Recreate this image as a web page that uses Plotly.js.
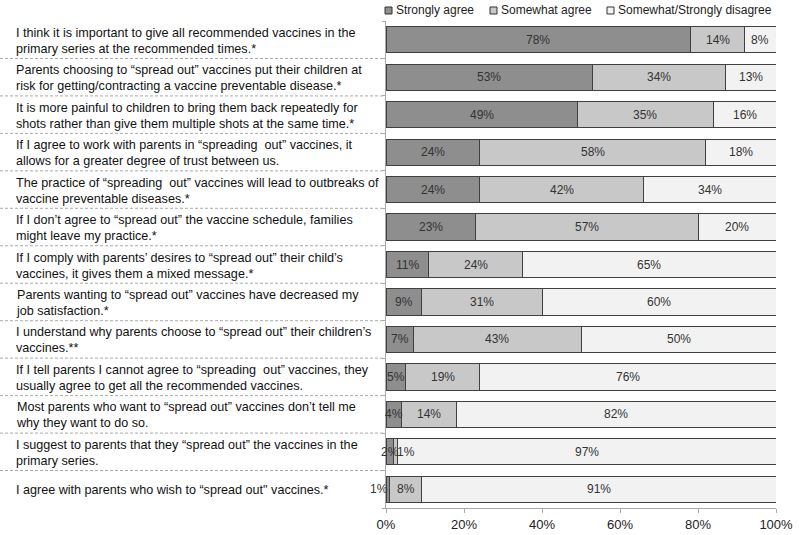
<!DOCTYPE html>
<html>
<head>
<meta charset="utf-8">
<script src="https://cdn.plot.ly/plotly-3.0.1.min.js"></script>
<style>
  html, body { margin: 0; padding: 0; background: #fff; }
  #chart { width: 799px; height: 535px; }
</style>
</head>
<body>
<div id="chart"></div>
<script>
// ---- Data ----
const statements = [
  "I think it is important to give all recommended vaccines in the<br>primary series at the recommended times.*",
  "Parents choosing to “spread out” vaccines put their children at<br>risk for getting/contracting a vaccine preventable disease.*",
  "It is more painful to children to bring them back repeatedly for<br>shots rather than give them multiple shots at the same time.*",
  "If I agree to work with parents in “spreading  out” vaccines, it<br>allows for a greater degree of trust between us.",
  "The practice of “spreading  out” vaccines will lead to outbreaks of<br>vaccine preventable diseases.*",
  "If I don’t agree to “spread out” the vaccine schedule, families<br>might leave my practice.*",
  "If I comply with parents’ desires to “spread out” their child’s<br>vaccines, it gives them a mixed message.*",
  "Parents wanting to “spread out” vaccines have decreased my<br>job satisfaction.*",
  "I understand why parents choose to “spread out” their children’s<br>vaccines.**",
  "If I tell parents I cannot agree to “spreading  out” vaccines, they<br>usually agree to get all the recommended vaccines.",
  "Most parents who want to “spread out” vaccines don’t tell me<br>why they want to do so.",
  "I suggest to parents that they “spread out” the vaccines in the<br>primary series.",
  "I agree with parents who wish to “spread out\" vaccines.*"
];
const seriesNames = ["Strongly agree", "Somewhat agree", "Somewhat/Strongly disagree"];
const stronglyAgree = [78, 53, 49, 24, 24, 23, 11, 9, 7, 5, 4, 2, 1];
const somewhatAgree = [14, 34, 35, 58, 42, 57, 24, 31, 43, 19, 14, 1, 8];
const disagree      = [8, 13, 16, 18, 34, 20, 65, 60, 50, 76, 82, 97, 91];
const xTickVals = [0, 20, 40, 60, 80, 100];
const xTickText = ["0%", "20%", "40%", "60%", "80%", "100%"];

// ---- Styling ----
const colors = ["#8e8e8e", "#c8c8c8", "#f2f2f2"];
const outline = "#404040";
const FONT = "Liberation Sans, Arial, sans-serif";
const W = 799, H = 535;
const M = { l: 386, r: 23, t: 21, b: 27 };
const PW = W - M.l - M.r, PH = H - M.t - M.b;
const px = v => (v - M.l) / PW;          // pixel x -> paper x
const py = v => (H - M.b - v) / PH;      // pixel y -> paper y

const seriesValues = [stronglyAgree, somewhatAgree, disagree];
const yIdx = statements.map((_, i) => i);

const traces = seriesValues.map((vals, s) => ({
  type: "bar",
  orientation: "h",
  name: seriesNames[s],
  x: vals,
  y: yIdx,
  width: 0.7,
  marker: { color: colors[s], line: { color: outline, width: 1 } },
  hoverinfo: "skip",
  showlegend: false
}));

const annotations = [];
const shapes = [];

// statement labels
statements.forEach((t, i) => {
  annotations.push({
    xref: "paper", yref: "y", x: px(14), y: i, yshift: -1,
    xanchor: "left", yanchor: "middle", align: "left",
    text: t, showarrow: false,
    font: { family: FONT, size: 12.6, color: "#111" }
  });
});

// dashed separators
for (let i = 0; i < statements.length - 1; i++) {
  shapes.push({
    type: "line", xref: "paper", yref: "y",
    x0: px(0), x1: px(384), y0: i + 0.5, y1: i + 0.5,
    line: { color: "#aaa", width: 1, dash: "3px,2px" }
  });
}

// value labels inside segments
const smallShift = { "11-1": 10, "12-0": -9 };
statements.forEach((_, i) => {
  let cum = 0;
  seriesValues.forEach((vals, s) => {
    const v = vals[i];
    annotations.push({
      xref: "x", yref: "y", x: cum + v / 2, y: i,
      xanchor: "center", yanchor: "middle",
      xshift: smallShift[i + "-" + s] || 0,
      text: v + "%", showarrow: false,
      font: { family: FONT, size: 12, color: "#333" }
    });
    cum += v;
  });
});

// custom legend
const legendPos = [385, 490, 607];
seriesNames.forEach((n, s) => {
  const x0 = legendPos[s];
  shapes.push({
    type: "rect", xref: "paper", yref: "paper",
    x0: px(x0), x1: px(x0 + 7), y0: py(14), y1: py(7),
    fillcolor: colors[s], line: { color: "#333", width: 1 }
  });
  annotations.push({
    xref: "paper", yref: "paper", x: px(x0 + 9), y: py(10.5),
    xanchor: "left", yanchor: "middle", text: n, showarrow: false,
    font: { family: FONT, size: 12, color: "#222" }
  });
});

const boundaryVals = [];
for (let i = -0.5; i <= statements.length - 0.5; i += 1) boundaryVals.push(i);

const layout = {
  width: W, height: H,
  margin: M,
  paper_bgcolor: "#fff", plot_bgcolor: "#fff",
  barmode: "stack",
  bargap: 0.3,
  showlegend: false,
  xaxis: {
    range: [0, 100],
    tickmode: "array", tickvals: xTickVals, ticktext: xTickText,
    ticks: "outside", ticklen: 4, tickcolor: "#aaa",
    showline: true, linecolor: "#aaa", linewidth: 1,
    showgrid: false, zeroline: false, fixedrange: true,
    tickfont: { family: FONT, size: 13, color: "#222" }
  },
  yaxis: {
    range: [statements.length - 0.5, -0.5],
    tickmode: "array", tickvals: boundaryVals, ticktext: boundaryVals.map(() => ""),
    ticks: "outside", ticklen: 3, tickcolor: "#aaa",
    showline: true, linecolor: "#aaa", linewidth: 1,
    showgrid: false, zeroline: false, showticklabels: false, fixedrange: true
  },
  annotations: annotations,
  shapes: shapes
};

Plotly.newPlot("chart", traces, layout, { displayModeBar: false, staticPlot: true });
</script>
</body>
</html>
